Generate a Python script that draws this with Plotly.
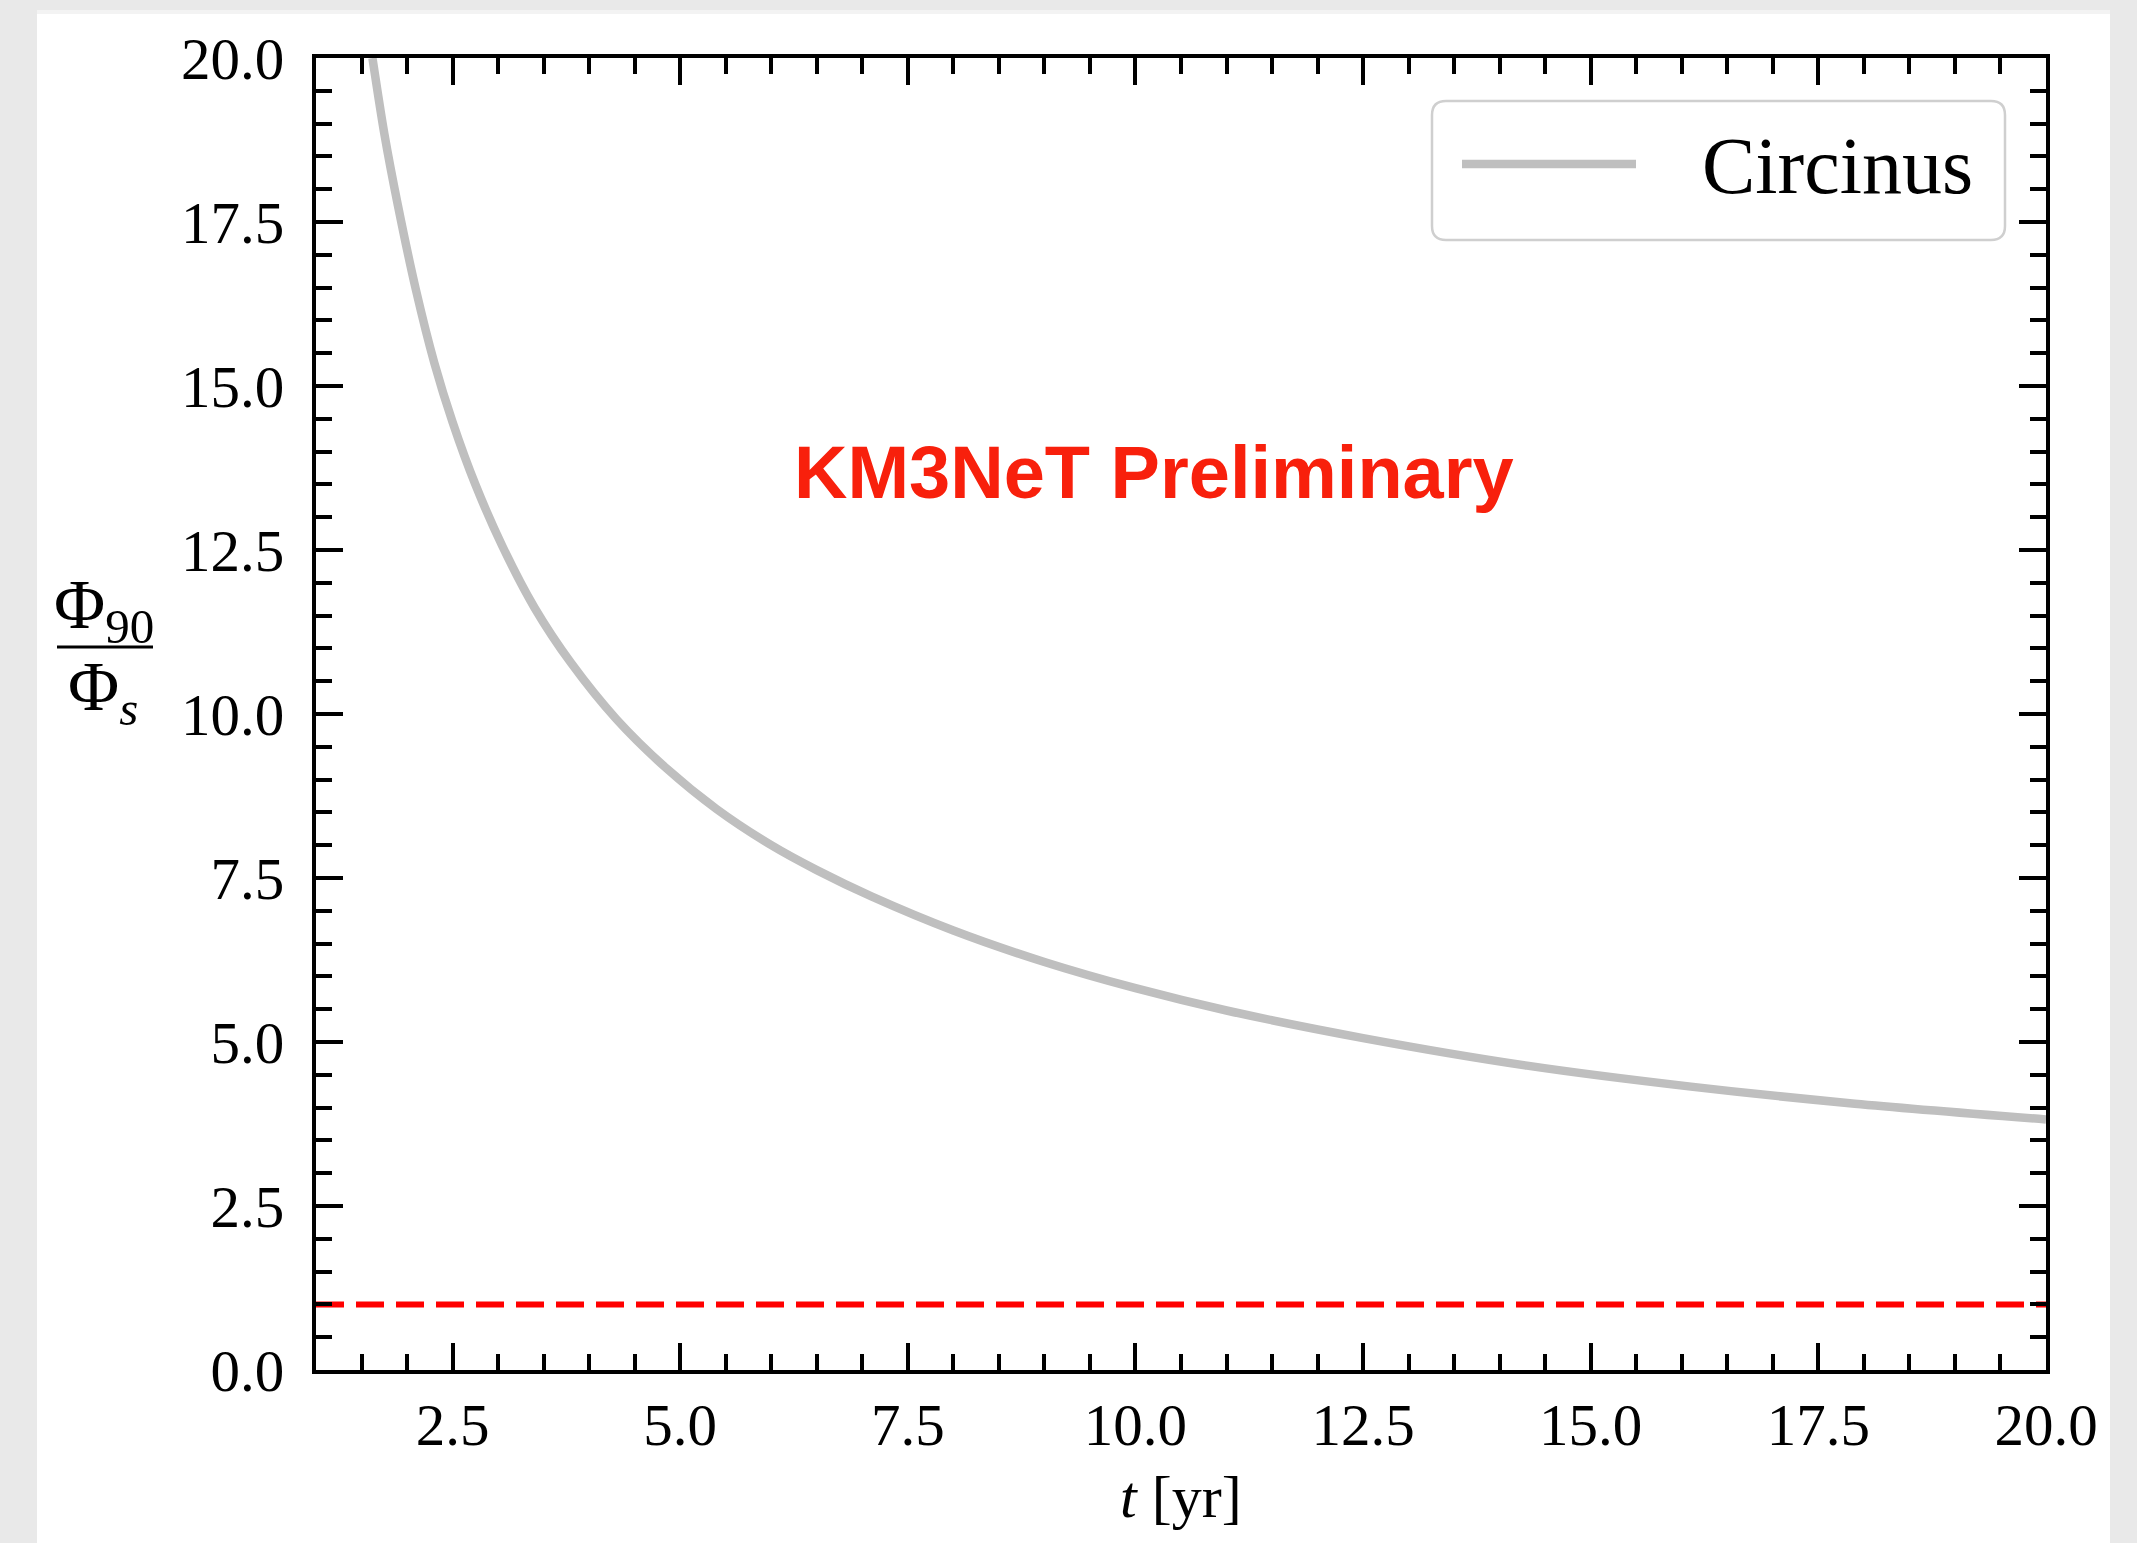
import plotly.graph_objects as go

# ---- data ----
t_years = [1.62, 1.75, 1.90, 2.10, 2.30, 2.50, 2.75, 3.05, 3.40, 3.80, 4.30, 4.85, 5.40,
           6.00, 6.50, 7.10, 8.00, 9.00, 10.0, 11.0, 12.5, 14.3, 16.1, 17.9, 20.0]
ratio_circinus = [20.0, 18.85, 17.75, 16.45, 15.35, 14.45, 13.50, 12.55, 11.62, 10.78, 9.92, 9.17, 8.55,
                  8.00, 7.62, 7.22, 6.70, 6.22, 5.82, 5.48, 5.06, 4.64, 4.32, 4.06, 3.82]
ref_x = [1.0, 20.0]
ref_y = [1.0, 1.0]
x_ticks = [2.5, 5.0, 7.5, 10.0, 12.5, 15.0, 17.5, 20.0]
y_ticks = [0.0, 2.5, 5.0, 7.5, 10.0, 12.5, 15.0, 17.5, 20.0]
series_name = "Circinus"

W, H = 2137, 1543
L, R, T, B = 316, 2137 - 2046, 58, 1543 - 1370
PW, PH = W - L - R, H - T - B


def px(x):
    return (x - L) / PW


def py(y):
    return (H - B - y) / PH


GRAY = "#bfbfbf"
SERIF = "Liberation Serif, Times New Roman, serif"

fig = go.Figure()
fig.add_trace(go.Scatter(x=t_years, y=ratio_circinus, mode="lines", name=series_name,
                         line=dict(color=GRAY, width=8.5, shape="spline", smoothing=0.8),
                         showlegend=False))
fig.add_trace(go.Scatter(x=ref_x, y=ref_y, mode="lines", showlegend=False,
                         line=dict(color="#ff0000", width=6, dash="28px,12px")))

axis_common = dict(
    showline=True, linecolor="black", linewidth=4, mirror="ticks",
    ticks="inside", ticklen=27, tickwidth=3.5, tickcolor="black",
    showgrid=False, zeroline=False,
    tickfont=dict(family=SERIF, size=59, color="black"),
    minor=dict(ticks="inside", ticklen=16, tickwidth=3.5, tickcolor="black", dtick=0.5, showgrid=False),
)
fig.update_xaxes(range=[1, 20], tickvals=x_ticks, ticktext=[f"{v:.1f}" for v in x_ticks],
                 ticklabelstandoff=0, **axis_common)
fig.update_yaxes(range=[0, 20], tickvals=y_ticks, ticktext=[f"{v:.1f}" for v in y_ticks],
                 ticklabelstandoff=16, **axis_common)

shapes = [
    # white panel on grey page
    dict(type="rect", xref="paper", yref="paper", x0=px(37), x1=px(2110), y0=py(1543), y1=py(14),
         fillcolor="white", line=dict(width=0), layer="below"),
    dict(type="rect", xref="paper", yref="paper", x0=px(37), x1=px(2110), y0=py(14), y1=py(10),
         fillcolor="#f3f3f3", line=dict(width=0), layer="below"),
    # fraction bar of y label
    dict(type="line", xref="paper", yref="paper", x0=px(57), x1=px(153), y0=py(647), y1=py(647),
         line=dict(color="black", width=3)),
]
# rounded legend box
w, h, r = 573, 139, 14
hw, hh = w / 2, h / 2
path = (f"M {-hw + r},{-hh} L {hw - r},{-hh} Q {hw},{-hh} {hw},{-hh + r} "
        f"L {hw},{hh - r} Q {hw},{hh} {hw - r},{hh} L {-hw + r},{hh} Q {-hw},{hh} {-hw},{hh - r} "
        f"L {-hw},{-hh + r} Q {-hw},{-hh} {-hw + r},{-hh} Z")
shapes.append(dict(type="path", xref="paper", yref="paper", xsizemode="pixel", ysizemode="pixel",
                   xanchor=px((1432 + 2005) / 2), yanchor=py((101 + 240) / 2), path=path,
                   fillcolor="white", line=dict(color="#cfcfcf", width=2.5)))
shapes.append(dict(type="line", xref="paper", yref="paper", x0=px(1462), x1=px(1636),
                   y0=py(164), y1=py(164), line=dict(color=GRAY, width=8.5)))

annotations = [
    dict(text=series_name, xref="paper", yref="paper", x=px(1700), y=py(166), xanchor="left",
         yanchor="middle", showarrow=False, font=dict(family=SERIF, size=80, color="black")),
    dict(text="<b>KM3NeT Preliminary</b>", xref="paper", yref="paper", x=px(1154), y=py(473),
         xanchor="center", yanchor="middle", showarrow=False,
         font=dict(family="Liberation Sans, Arial, sans-serif", size=74, color="#f8200c")),
    dict(text="<i>t</i> [yr]", xref="paper", yref="paper", x=0.5, y=py(1497), xanchor="center",
         yanchor="middle", showarrow=False, font=dict(family=SERIF, size=60, color="black")),
    dict(text="Φ<sub>90</sub>", xref="paper", yref="paper", x=px(104), y=py(610), xanchor="center",
         yanchor="middle", showarrow=False, font=dict(family=SERIF, size=70, color="black")),
    dict(text="Φ<sub><i>s</i></sub>", xref="paper", yref="paper", x=px(103), y=py(692), xanchor="center",
         yanchor="middle", showarrow=False, font=dict(family=SERIF, size=70, color="black")),
]

fig.update_layout(
    width=W, height=H,
    margin=dict(l=L, r=R, t=T, b=B),
    paper_bgcolor="#e9e9e9", plot_bgcolor="white",
    shapes=shapes, annotations=annotations, showlegend=False,
)

fig.write_html("out.html")
